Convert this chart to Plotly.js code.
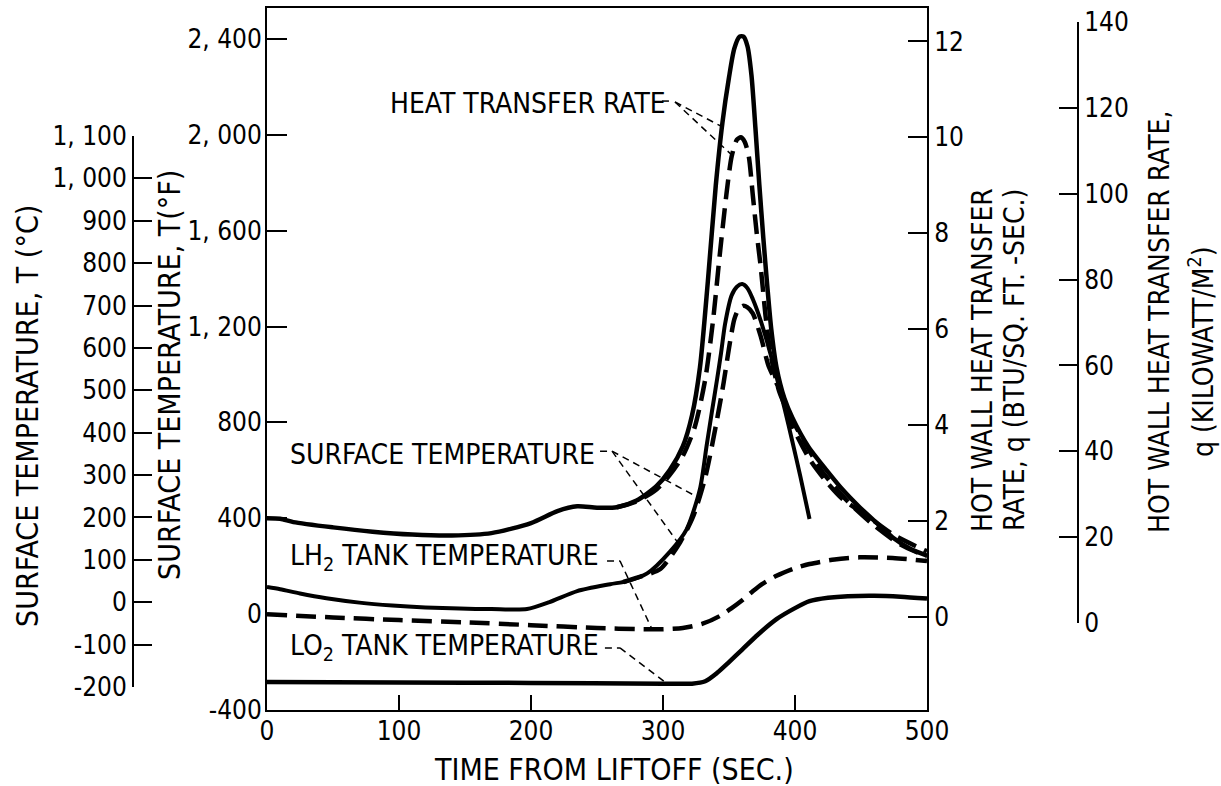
<!DOCTYPE html>
<html><head><meta charset="utf-8">
<script src="https://cdn.plot.ly/plotly-3.0.1.min.js"></script>
<style>html,body{margin:0;padding:0;background:#fff}#chart{width:1221px;height:786px}</style>
</head><body><div id="chart"></div>
<script>
const FONT = "'DejaVu Sans Condensed', 'Liberation Sans Narrow', 'Arial Narrow', sans-serif";

// Heat transfer rate, solid (BTU/sq.ft.-sec) vs time (s)
const tHeatSolid = [0, 10, 20, 50, 80, 110, 140, 170, 200, 220, 235, 250, 265, 280, 295, 305, 315, 322, 328, 334, 340, 345, 350, 354, 358, 361, 364, 367, 370, 373, 376, 379, 382, 386, 392, 398, 410, 424, 436, 449, 462, 474, 487, 500];
const qHeatSolid = [2.05, 2.04, 1.97, 1.86, 1.77, 1.71, 1.69, 1.74, 1.95, 2.2, 2.3, 2.27, 2.28, 2.42, 2.72, 3.05, 3.55, 4.2, 5.2, 7.0, 9.0, 10.3, 11.25, 11.85, 12.1, 12.1, 11.9, 11.3, 10.2, 9.0, 7.9, 6.9, 6.0, 5.2, 4.55, 4.15, 3.55, 3.05, 2.65, 2.28, 1.95, 1.65, 1.42, 1.27];

// Heat transfer rate, dashed (BTU/sq.ft.-sec)
const tHeatDash = [265, 280, 295, 305, 315, 324, 332, 338, 343, 348, 352, 356, 359, 362, 365, 368, 371, 374, 378, 382, 388, 395, 405, 420, 440, 460, 480, 500];
const qHeatDash = [2.28, 2.4, 2.65, 2.95, 3.35, 3.95, 4.95, 6.2, 7.55, 8.8, 9.6, 9.95, 10.0, 9.9, 9.6, 8.8, 8.0, 7.3, 6.2, 5.4, 4.7, 4.25, 3.75, 3.05, 2.4, 1.9, 1.5, 1.25];

// Surface temperature, solid (deg F)
const tSurfSolid = [0, 10, 25, 45, 70, 95, 120, 146, 170, 197, 214, 235, 260, 273, 288, 305, 318, 328, 333, 337, 341, 344, 347, 352, 356, 360, 364, 368, 374, 381, 386, 392, 398, 404, 411];
const TSurfSolid = [113, 104, 86, 66, 48, 36, 28, 23, 21, 21, 50, 96, 125, 138, 170, 259, 355, 522, 701, 843, 981, 1090, 1210, 1330, 1366, 1377, 1360, 1315, 1225, 1094, 990, 860, 720, 576, 397];

// Surface temperature, dashed (deg F)
const tSurfDash = [270, 285, 298, 313, 323, 332, 341, 346, 350, 354, 357, 360.5, 364, 368, 374, 380, 385, 390, 398, 411, 424, 436, 455, 475, 500];
const TSurfDash = [134, 160, 188, 300, 410, 570, 814, 968, 1110, 1230, 1270, 1286, 1280, 1255, 1160, 1035, 975, 915, 785, 647, 551, 480, 409, 330, 262];

// LH2 tank temperature (deg F)
const tLH2 = [0, 50, 100, 150, 200, 250, 285, 300, 315, 330, 343, 352, 360, 368, 375, 386, 400, 411, 430, 449, 474, 500];
const TLH2 = [0, -14, -25, -34, -46, -58, -63, -63, -58, -40, -8, 25, 58, 95, 125, 160, 192, 209, 228, 237, 234, 222];

// LO2 tank temperature (deg F)
const tLO2 = [0, 100, 200, 300, 322, 332, 341, 350, 360, 372, 386, 400, 411, 425, 440, 460, 480, 500];
const TLO2 = [-283, -285, -287, -290, -290, -280, -245, -200, -148, -85, -21, 25, 54, 68, 75, 77, 73, 65];

// Axis ticks
const xTicks = [0, 100, 200, 300, 400, 500];
const fTicks = [-400, 0, 400, 800, 1200, 1600, 2000, 2400];
const fTickText = ["-400", "0", "400", "800", "1, 200", "1, 600", "2, 000", "2, 400"];
const cTicks = [-200, -100, 0, 100, 200, 300, 400, 500, 600, 700, 800, 900, 1000, 1100];
const cTickText = ["-200", "-100", "0", "100", "200", "300", "400", "500", "600", "700", "800", "900", "1, 000", "1, 100"];
const btuTicks = [0, 2, 4, 6, 8, 10, 12];
const kwTicks = [0, 20, 40, 60, 80, 100, 120, 140];

function at(ts, vs, t) {
  for (let i = 0; i < ts.length - 1; i++) {
    if (t >= ts[i] && t <= ts[i + 1]) {
      const f = (t - ts[i]) / (ts[i + 1] - ts[i]);
      return vs[i] + f * (vs[i + 1] - vs[i]);
    }
  }
  return vs[vs.length - 1];
}

const DASH = '20px,9px';
const line = (w, dash) => ({color: '#000', width: w, dash: dash || 'solid', shape: 'spline', smoothing: 0.7});

const traces = [
  {x: tHeatSolid, y: qHeatSolid, yaxis: 'y2', mode: 'lines', line: line(4.5)},
  {x: tHeatDash, y: qHeatDash, yaxis: 'y2', mode: 'lines', line: line(4.5, DASH)},
  {x: tSurfSolid, y: TSurfSolid, mode: 'lines', line: line(4)},
  {x: tSurfDash, y: TSurfDash, mode: 'lines', line: line(4.5, DASH)},
  {x: tLH2, y: TLH2, mode: 'lines', line: line(4.5, DASH)},
  {x: tLO2, y: TLO2, mode: 'lines', line: line(4.5)},
  {x: [], y: [], yaxis: 'y3', mode: 'lines'},
  {x: [], y: [], yaxis: 'y4', mode: 'lines'}
];

const PW = 1221, PH = 702;
const TICKF = {family: FONT, size: 26, color: '#000'};
const axBase = {showline: true, linewidth: 2, linecolor: '#000', ticks: 'inside', tickwidth: 2, tickcolor: '#000',
  showgrid: false, zeroline: false, tickfont: TICKF, fixedrange: true};

const lead = {color: '#000', width: 1.5, dash: '7px,5px'};
function seg(xref, yref, x0, y0, x1, y1) { return {type: 'line', xref, yref, x0, y0, x1, y1, line: lead}; }

const shapes = [
  // heat transfer rate leaders (BTU axis)
  seg('x', 'y2', 299.2, 10.757, 307.6, 10.757),
  seg('x', 'y2', 309.1, 10.737, 344.7, at(tHeatSolid, qHeatSolid, 344.7)),
  seg('x', 'y2', 309.1, 10.737, 352.3, at(tHeatDash, qHeatDash, 352.3)),
  // surface temperature leaders
  seg('x', 'y', 252.3, 680, 261.4, 680),
  seg('x', 'y', 261.4, 680, 326, at(tSurfSolid, TSurfSolid, 326)),
  seg('x', 'y', 261.4, 680, 312, at(tSurfDash, TSurfDash, 312)),
  // LH2
  seg('x', 'y', 257.6, 222, 267.4, 222),
  seg('x', 'y', 267.4, 222, 291.7, at(tLH2, TLH2, 291.7)),
  // LO2
  seg('x', 'y', 256, -141, 267.4, -141),
  seg('x', 'y', 267.4, -141, 303, at(tLO2, TLO2, 303))
];

const lf = {family: FONT, size: 28, color: '#000'};
const tf = {family: FONT, size: 30, color: '#000'};
const ann = (o) => Object.assign({showarrow: false, font: tf}, o);
const annotations = [
  ann({xref: 'x', yref: 'y', x: 91.7, y: 2132, xanchor: 'left', yanchor: 'middle', font: lf, text: 'HEAT TRANSFER RATE'}),
  ann({xref: 'x', yref: 'y', x: 15.9, y: 668, xanchor: 'left', yanchor: 'middle', font: lf, text: 'SURFACE TEMPERATURE'}),
  ann({xref: 'x', yref: 'y', x: 15.9, y: 238, xanchor: 'left', yanchor: 'middle', font: lf, text: 'LH<sub>2</sub> TANK TEMPERATURE'}),
  ann({xref: 'x', yref: 'y', x: 15.9, y: -140, xanchor: 'left', yanchor: 'middle', font: lf, text: 'LO<sub>2</sub> TANK TEMPERATURE'}),
  ann({xref: 'paper', yref: 'paper', x: 28 / PW, y: (710 - 416) / PH, textangle: -90, xanchor: 'center', yanchor: 'middle', text: 'SURFACE TEMPERATURE, T (°C)'}),
  ann({xref: 'paper', yref: 'paper', x: 169 / PW, y: (710 - 375) / PH, textangle: -90, xanchor: 'center', yanchor: 'middle', text: 'SURFACE TEMPERATURE, T(°F)'}),
  ann({xref: 'paper', yref: 'paper', x: 983 / PW, y: (710 - 360) / PH, textangle: -90, xanchor: 'center', yanchor: 'middle', font: lf, text: 'HOT WALL HEAT TRANSFER'}),
  ann({xref: 'paper', yref: 'paper', x: 1015 / PW, y: (710 - 360) / PH, textangle: -90, xanchor: 'center', yanchor: 'middle', font: lf, text: 'RATE, q (BTU/SQ. FT. -SEC.)'}),
  ann({xref: 'paper', yref: 'paper', x: 1159 / PW, y: (710 - 322) / PH, textangle: -90, xanchor: 'center', yanchor: 'middle', font: lf, text: 'HOT WALL HEAT TRANSFER RATE,'}),
  ann({xref: 'paper', yref: 'paper', x: 1201 / PW, y: (710 - 352) / PH, textangle: -90, xanchor: 'center', yanchor: 'middle', font: lf, text: 'q (KILOWATT/M<sup>2</sup>)'}),
  ann({xref: 'paper', yref: 'paper', x: 614 / PW, y: (710 - 769) / PH, xanchor: 'center', yanchor: 'middle', text: 'TIME FROM LIFTOFF (SEC.)'})
];

const layout = {
  width: 1221, height: 786,
  margin: {l: 0, r: 0, t: 8, b: 76, pad: 0},
  paper_bgcolor: '#fff', plot_bgcolor: 'rgba(0,0,0,0)',
  showlegend: false,
  font: {family: FONT, size: 26, color: '#000'},
  xaxis: Object.assign({}, axBase, {domain: [267 / PW, 927 / PW], range: [0, 500], tickvals: xTicks, ticklen: 15, mirror: true, ticklabelstandoff: -3}),
  yaxis: Object.assign({}, axBase, {range: [-400, 2529], tickvals: fTicks, ticktext: fTickText, ticklen: 20, mirror: true, ticklabelstandoff: -2}),
  yaxis2: Object.assign({}, axBase, {overlaying: 'y', side: 'right', range: [-1.951, 12.699], tickvals: btuTicks, ticklen: 19}),
  yaxis3: Object.assign({}, axBase, {anchor: 'free', position: 133 / PW, side: 'left', domain: [(710 - 687) / PH, (710 - 136) / PH], range: [-200, 1100], tickvals: cTicks, ticktext: cTickText, ticklen: 18}),
  yaxis4: Object.assign({}, axBase, {anchor: 'free', position: 1078 / PW, side: 'right', domain: [(710 - 623) / PH, (710 - 22) / PH], range: [0, 140], tickvals: kwTicks, ticklen: 18}),
  shapes: shapes,
  annotations: annotations
};

Plotly.newPlot('chart', traces, layout, {displayModeBar: false, staticPlot: true});
</script>
</body></html>
